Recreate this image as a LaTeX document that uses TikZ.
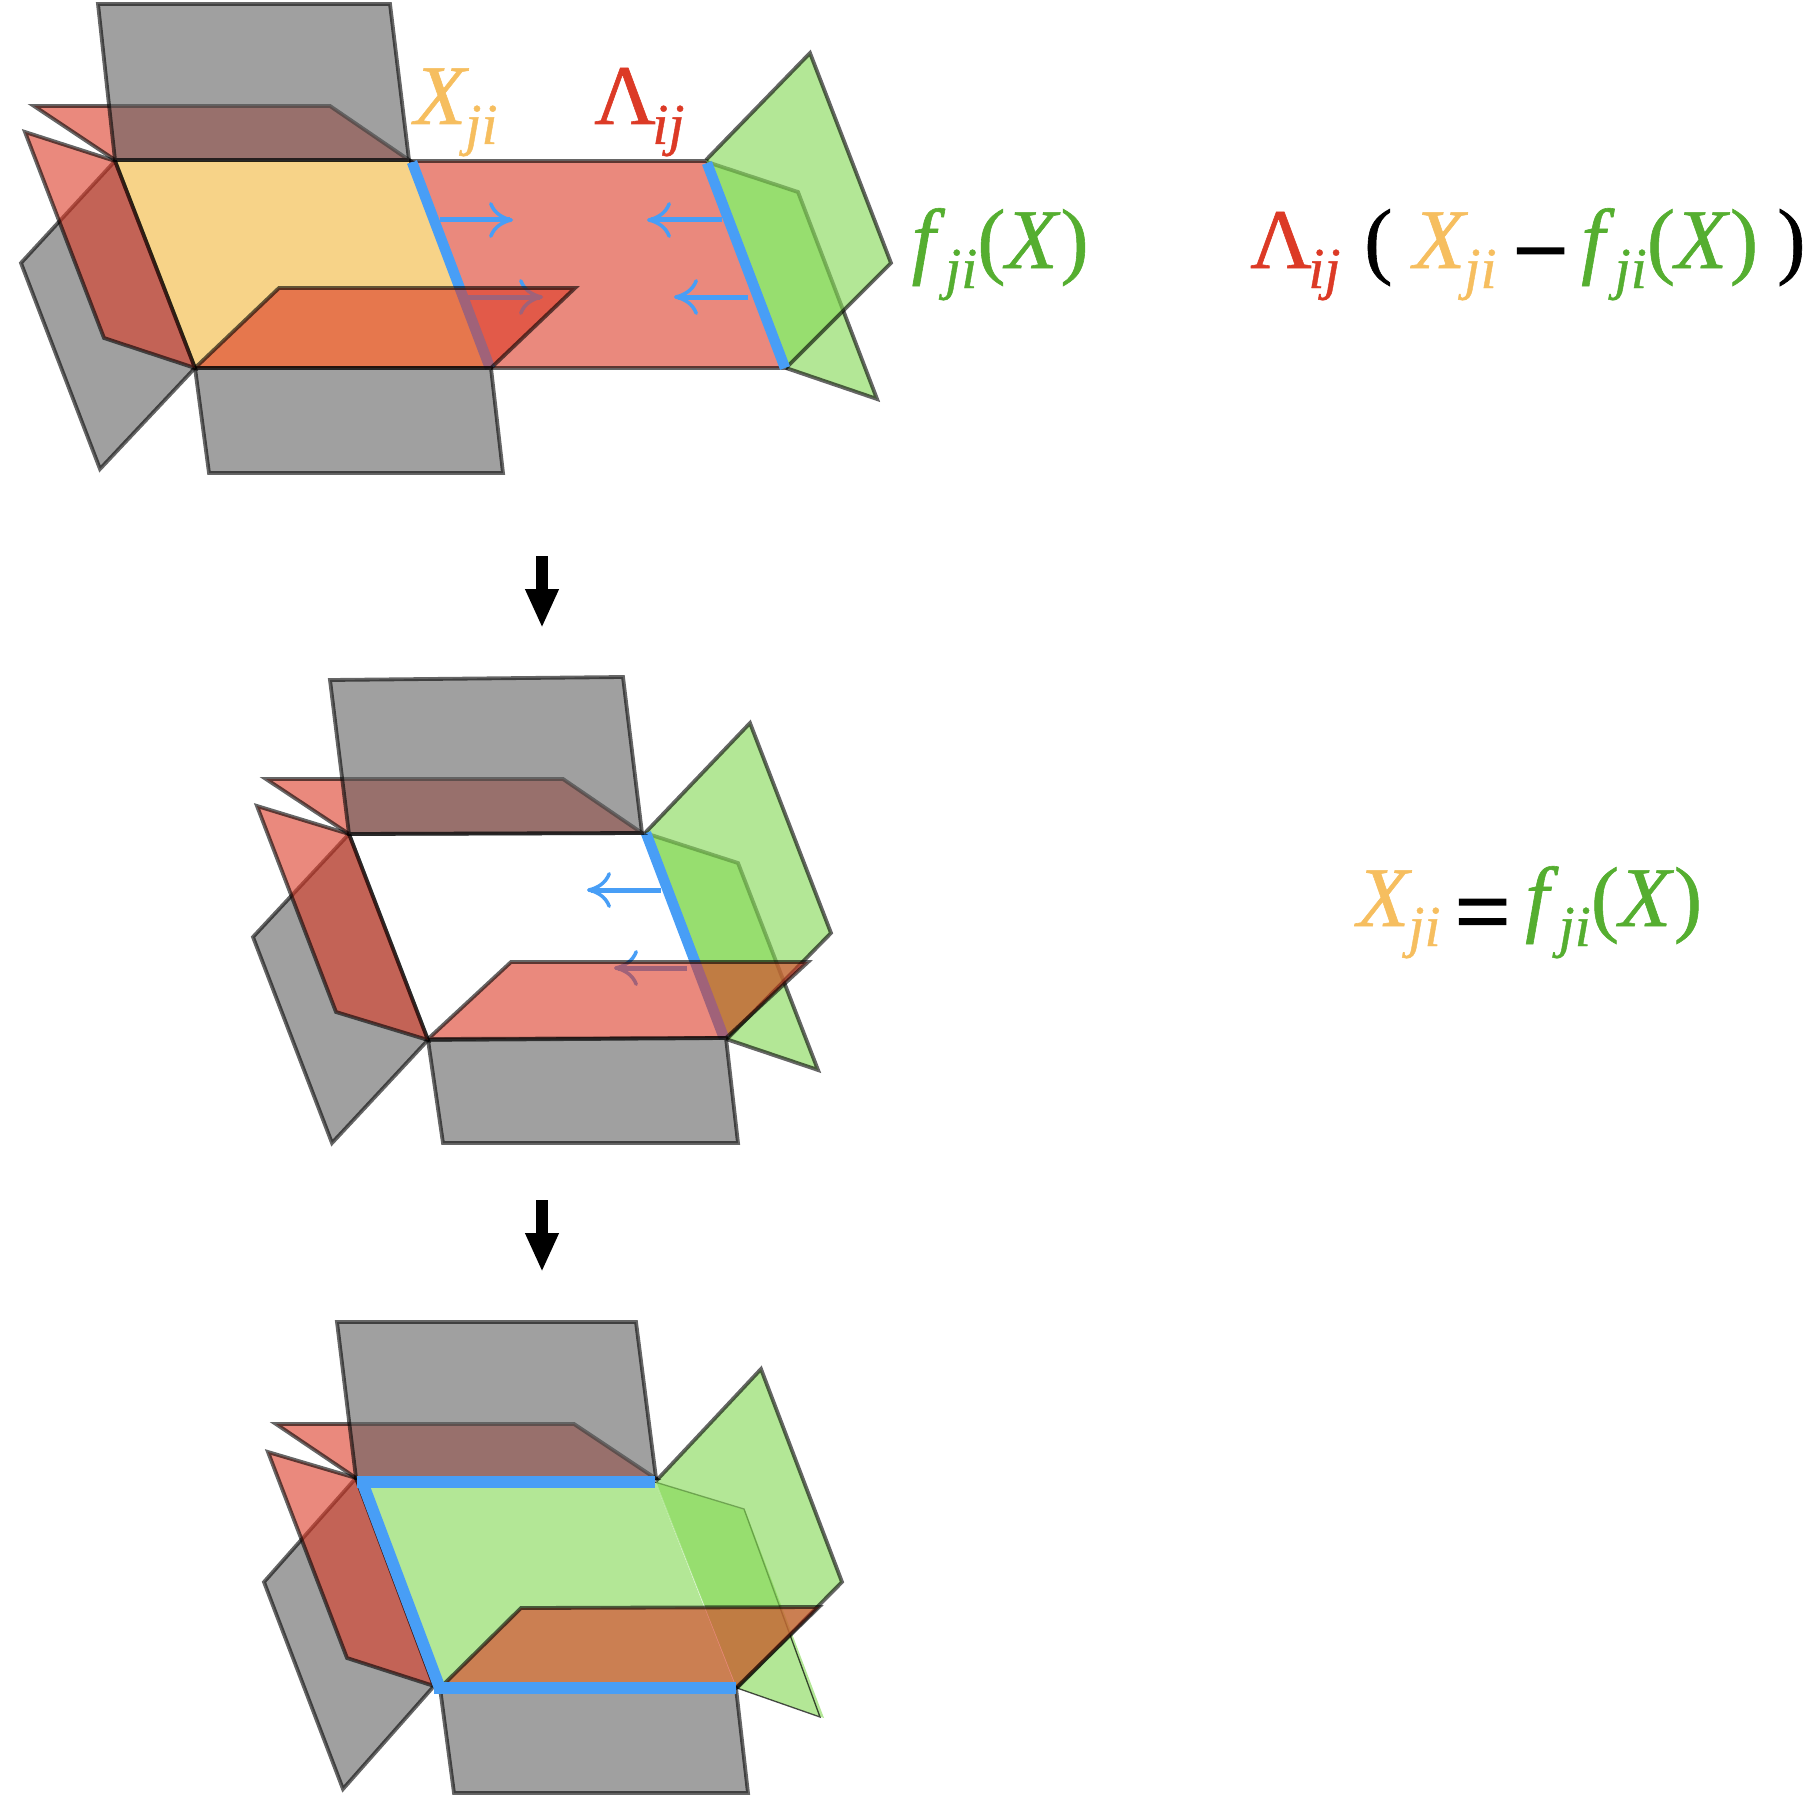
\documentclass[tikz,border=0pt]{standalone}
\usepackage{fontspec}
\setmainfont{Liberation Serif}[FakeBold=0.7]
\newfontfamily\opfont{Liberation Serif}[FakeBold=2.2]
\usepackage{xcolor}
\usetikzlibrary{arrows.meta}
\definecolor{planered}{HTML}{DC3A26}
\definecolor{planegreen}{HTML}{86D958}
\definecolor{planegrey}{HTML}{616161}
\definecolor{planeyellow}{HTML}{F7D388}
\definecolor{edgeblue}{HTML}{489EF6}
\definecolor{textyellow}{HTML}{F6BE5F}
\definecolor{textgreen}{HTML}{55AE30}
\newcommand{\lowidx}[2][0pt]{\kern#1\raisebox{-20pt}{\fontsize{58}{58}\selectfont\itshape #2}}
\tikzset{
	plane/.style={draw=black, draw opacity=0.6, line width=3.8pt, fill opacity=0.6, line join=miter},
	greyplane/.style={plane, fill=planegrey},
	redplane/.style={plane, fill=planered},
	greenplane/.style={plane, fill=planegreen, fill opacity=0.63},
	blueedge/.style={edgeblue, line width=10.5pt},
	bluearrow/.style={edgeblue, line width=5pt, -{Computer Modern Rightarrow[length=24pt,width=36pt,line width=3.5pt]}},
	stagearrow/.style={black, line width=11.5pt, -{Triangle[length=39pt,width=31pt]}},
	formula/.style={inner sep=0pt, anchor=base west, font=\fontsize{85}{85}\selectfont},
	operator/.style={inner sep=0pt, anchor=base west, font=\opfont\fontsize{97}{97}\selectfont}
}
\begin{document}
\begin{tikzpicture}[x=1pt, y=-1pt]
	\useasboundingbox (0,0) rectangle (1804,1798);
	
	% Define the first stage
	\fill[planeyellow] (115,161) -- (409,161) -- (491,368) -- (195,368) -- cycle;
	\draw[redplane] (409,161) -- (707,161) -- (785,368) -- (491,368);
	\draw[greenplane] (707,162) -- (798,192) -- (877,399) -- (786,368);
	\draw[greenplane] (706,160) -- (810,53) -- (891,263) -- (786,368);
	\draw[blueedge] (412,162) -- (490,368);
	\draw[blueedge] (707,163) -- (785,368);
	\coordinate (push1a) at (440,220);
	\coordinate (push1b) at (513,220);
	\coordinate (push1c) at (722,220);
	\coordinate (push1d) at (647,220);
	\coordinate (push1e) at (748,297);
	\coordinate (push1f) at (674,297);
	\coordinate (push1g) at (463,297);
	\coordinate (push1h) at (543,297);
	\draw[bluearrow] (push1a) -- (push1b);
	\draw[bluearrow] (push1c) -- (push1d);
	\draw[bluearrow] (push1e) -- (push1f);
	\draw[bluearrow] (push1g) -- (push1h);
	\draw[redplane] (279,288) -- (575,288) -- (491,368) -- (195,368) -- cycle;
	\draw[greyplane] (195,368) -- (491,368) -- (503,473) -- (209,473) -- cycle;
	\draw[greyplane] (115,161) -- (195,368) -- (100,469) -- (21,263) -- cycle;
	\draw[redplane] (25,132) -- (115,161) -- (195,368) -- (104,338) -- cycle;
	\draw[redplane] (34,106) -- (330,106) -- (409,160) -- (115,160) -- cycle;
	\draw[greyplane] (98,4) -- (390,4) -- (409,160) -- (115,160) -- cycle;
	
	% Define the labels of the first stage
	\node[formula, textyellow] (xlabel) at (414,124) {\textit{X}\lowidx[-3.5pt]{ji}};
	\node[formula, planered] (lambdalabel) at (594,124) {Λ\lowidx[-3.5pt]{ij}};
	\node[formula, textgreen] (flabel) at (911.5,268) {\textit{f}\lowidx{ji}(\textit{X})};
	
	% Define the first equation
	\node[formula, planered] (eqlambda) at (1250,268) {Λ\lowidx[-3.5pt]{ij}};
	\node[formula] (eqopen) at (1364,268) {(};
	\node[formula, textyellow] (eqx) at (1413,268) {\textit{X}\lowidx[-3.5pt]{ji}};
	\node[operator] (eqminus) at (1513,283) {−};
	\node[formula, textgreen] (eqf) at (1581,268) {\textit{f}\lowidx{ji}(\textit{X})};
	\node[formula] (eqclose) at (1777,268) {)};
	
	% Define the arrows between the stages
	\coordinate (stage1a) at (542,556);
	\coordinate (stage1b) at (542,628);
	\coordinate (stage2a) at (542,1200);
	\coordinate (stage2b) at (542,1272);
	\draw[stagearrow] (stage1a) -- (stage1b);
	\draw[stagearrow] (stage2a) -- (stage2b);
	
	% Define the second stage
	\draw[greenplane] (645,833) -- (738,863) -- (818,1070) -- (726,1039);
	\draw[greenplane] (645,833) -- (750,723) -- (831,933) -- (727,1039);
	\draw[blueedge] (646,833) -- (724,1038);
	\coordinate (push2a) at (661,890);
	\coordinate (push2b) at (587,890);
	\coordinate (push2c) at (687,968);
	\coordinate (push2d) at (614,968);
	\draw[bluearrow] (push2a) -- (push2b);
	\draw[bluearrow] (push2c) -- (push2d);
	\draw[redplane] (511,962) -- (808,962) -- (726,1038) -- (428,1039) -- cycle;
	\draw[greyplane] (428,1040) -- (726,1038) -- (738,1143) -- (443,1143) -- cycle;
	\draw[greyplane] (349,834) -- (428,1040) -- (332,1143) -- (253,937) -- cycle;
	\draw[redplane] (257,806) -- (349,834) -- (428,1040) -- (336,1012) -- cycle;
	\draw[redplane] (266,779) -- (563,779) -- (642,833) -- (349,834) -- cycle;
	\draw[greyplane] (330,680) -- (623,677) -- (642,833) -- (349,834) -- cycle;
	
	% Define the second equation
	\node[formula, textyellow] (solvex) at (1357,926) {\textit{X}\lowidx[-3.5pt]{ji}};
	\node[operator] (solveeq) at (1455,944) {=};
	\node[formula, textgreen] (solvef) at (1525,926) {\textit{f}\lowidx{ji}(\textit{X})};
	
	% Define the third stage
	\fill[planegreen, fill opacity=0.63] (360,1482) -- (655,1482) -- (736,1688) -- (438,1688) -- cycle;
	\fill[planegreen, fill opacity=0.63] (655,1482) -- (745,1510) -- (824,1718) -- (737,1688) -- cycle;
	\draw[black, draw opacity=0.7, line width=1.3pt] (655,1482) -- (744,1509) -- (820,1717) -- (737,1688);
	\draw[greenplane] (656,1481) -- (761,1369) -- (842,1582) -- (737,1688);
	\draw[redplane] (521,1608) -- (819,1607) -- (736,1688) -- (440,1688) -- cycle;
	\draw[greyplane] (440,1688) -- (736,1688) -- (748,1793) -- (454,1793) -- cycle;
	\draw[greyplane] (356,1478) -- (434,1686) -- (343,1789) -- (264,1582) -- cycle;
	\draw[redplane] (268,1452) -- (356,1478) -- (434,1686) -- (347,1658) -- cycle;
	\draw[redplane] (276,1424) -- (574,1424) -- (655,1478) -- (356,1478) -- cycle;
	\draw[greyplane] (337,1322) -- (636,1322) -- (656,1478) -- (356,1478) -- cycle;
	\draw[blueedge, line width=11.7pt] (356.5,1482) -- (654.5,1482);
	\draw[blueedge, line width=11.7pt] (362.3,1482) -- (439.8,1688);
	\draw[blueedge, line width=11.7pt] (434,1688) -- (736,1688);
\end{tikzpicture}
\end{document}
